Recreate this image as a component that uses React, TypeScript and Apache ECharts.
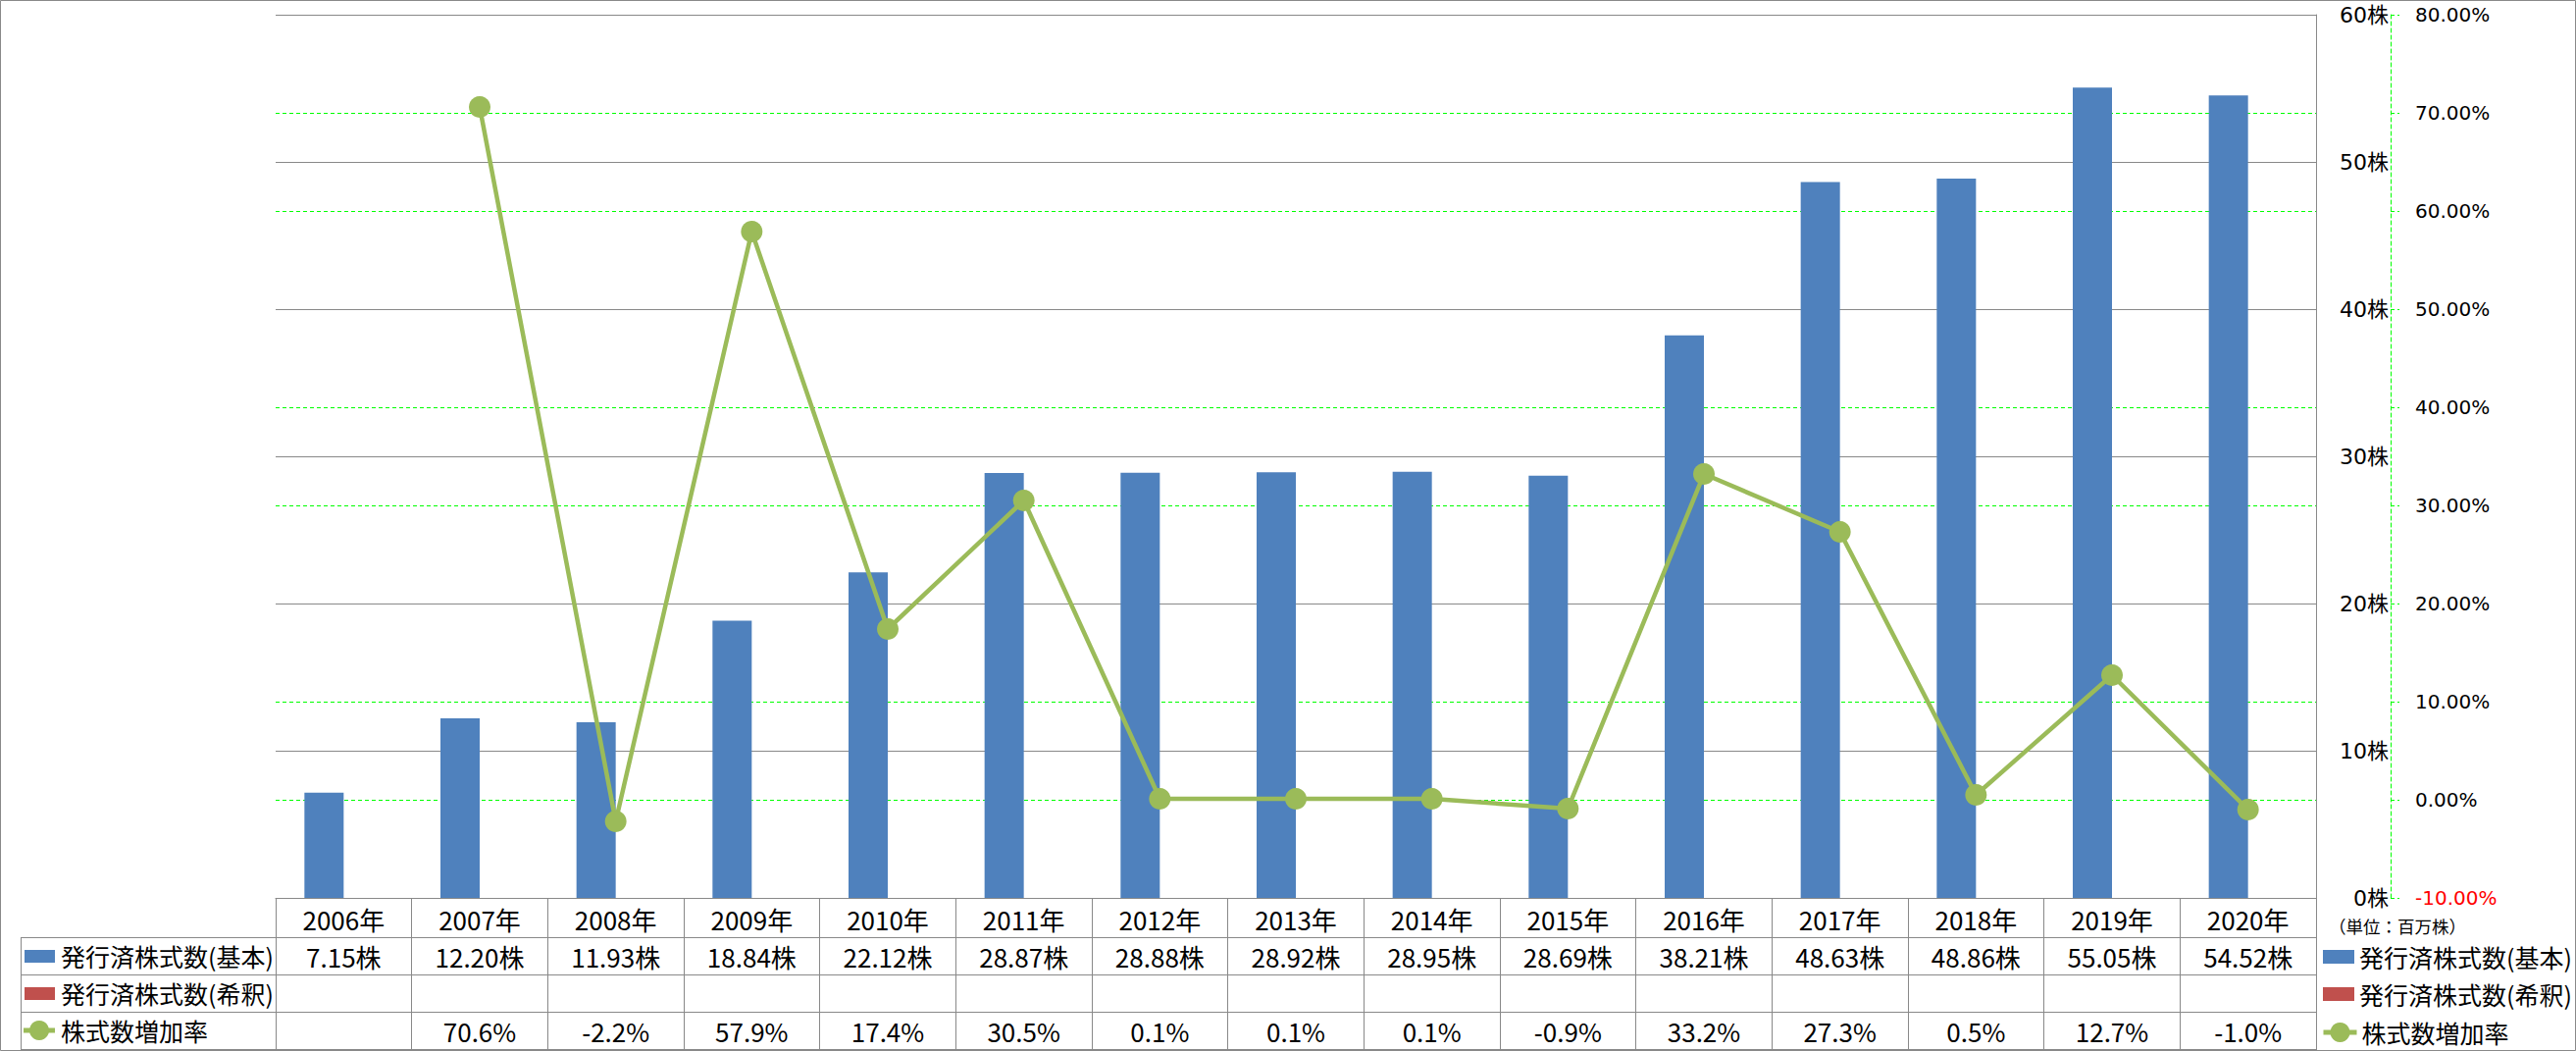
import React, { useEffect, useRef } from 'react';
import * as echarts from 'echarts';

const years = ['2006年', '2007年', '2008年', '2009年', '2010年', '2011年', '2012年', '2013年', '2014年', '2015年', '2016年', '2017年', '2018年', '2019年', '2020年'];
const basicShares = [7.15, 12.2, 11.93, 18.84, 22.12, 28.87, 28.88, 28.92, 28.95, 28.69, 38.21, 48.63, 48.86, 55.05, 54.52];
const dilutedShares: (number | null)[] = [null, null, null, null, null, null, null, null, null, null, null, null, null, null, null];
const growthRate: (number | null)[] = [null, 70.6, -2.2, 57.9, 17.4, 30.5, 0.1, 0.1, 0.1, -0.9, 33.2, 27.3, 0.5, 12.7, -1.0];
const seriesNames = ['発行済株式数(基本)', '発行済株式数(希釈)', '株式数増加率'];
const unitLabel = '（単位：百万株）';

const GRAY = '#898989';
const GREEN = '#00FF00';
const BLUE = '#4F81BD';
const RED = '#C0504D';
const OLIVE = '#9BBB59';
const tableFont = "'Liberation Sans Narrow', 'Noto Sans CJK JP', sans-serif";
const axisFont = "'DejaVu Sans', 'Noto Sans CJK JP', sans-serif";

export default function App() {
  const ref = useRef<HTMLDivElement>(null);
  useEffect(() => {
    document.body.style.margin = '0';
    const chart = echarts.init(ref.current!, undefined, { renderer: 'svg' });
    const legendTops = [962, 1000, 1039];
    const option: any = {
      animation: false,
      grid: { left: 281, top: 15, width: 2080, height: 900, containLabel: false },
      xAxis: {
        type: 'category',
        data: years,
        boundaryGap: true,
        axisLine: { show: true, lineStyle: { color: GRAY, width: 1 } },
        axisTick: { show: true, length: 155, interval: 0, lineStyle: { color: GRAY, width: 1 } },
        axisLabel: { interval: 0, margin: 8, fontSize: 26, fontFamily: tableFont, color: '#000' },
        splitLine: { show: false },
      },
      yAxis: [
        {
          type: 'value', position: 'right', min: 0, max: 60, interval: 10, z: 1,
          axisLine: { show: true, lineStyle: { color: GRAY, width: 1 } },
          axisTick: { show: false },
          splitLine: { show: true, lineStyle: { color: GRAY, width: 1 } },
          axisLabel: {
            margin: 20,
            formatter: (v: number) => `{a|${v}株}`,
            rich: { a: { width: 54, align: 'right', fontSize: 22, fontFamily: axisFont, color: '#000' } },
            showMinLabel: true, showMaxLabel: true,
          },
        },
        {
          type: 'value', position: 'right', offset: 76, min: -10, max: 80, interval: 10, z: 0,
          axisLine: { show: true, lineStyle: { color: GREEN, width: 1, type: [4, 3] } },
          axisTick: { show: true, length: 9, lineStyle: { color: GREEN, width: 1, type: [4, 3] } },
          splitLine: { show: true, lineStyle: { color: GREEN, width: 1, type: [4, 3] } },
          axisLabel: {
            margin: 25, fontSize: 20, fontFamily: axisFont,
            formatter: (v: number) => v.toFixed(2) + '%',
            color: (v: any) => (Number(v) === -10 ? '#FF0000' : '#000'),
            showMinLabel: true, showMaxLabel: true,
          },
        },
      ],
      legend: seriesNames.map((name, i) => ({
        data: i === 2 ? [name] : [{ name, icon: 'rect' }],
        left: i === 2 ? 2366 : 2368,
        top: legendTops[i],
        orient: 'vertical',
        itemWidth: i === 2 ? 34 : 32,
        itemHeight: i === 2 ? 25 : 14,
        itemGap: 0,
        padding: 0,
        selectedMode: false,
        lineStyle: i === 2 ? { width: 5 } : undefined,
        textStyle: { fontSize: 25, fontFamily: tableFont, color: '#000', lineHeight: 26 },
      })),
      series: [
        {
          name: seriesNames[0], type: 'bar', yAxisIndex: 0, data: basicShares,
          barWidth: 40, barGap: '0%', itemStyle: { color: BLUE },
        },
        {
          name: seriesNames[1], type: 'bar', yAxisIndex: 0, data: dilutedShares,
          barWidth: 40, barGap: '0%', itemStyle: { color: RED },
        },
        {
          name: seriesNames[2], type: 'line', yAxisIndex: 1, data: growthRate,
          symbol: 'circle', symbolSize: 22, connectNulls: false,
          lineStyle: { color: OLIVE, width: 4.5 }, itemStyle: { color: OLIVE },
        },
      ],
    };
    chart.setOption(option);

    const rowY = [974, 1012, 1050];
    const graphics: any[] = [];
    graphics.push({
      type: 'rect', shape: { x: 0.5, y: 0.5, width: 2625, height: 1070 },
      style: { fill: 'none', stroke: GRAY, lineWidth: 1 }, silent: true,
    });
    const tableLeft = 21;
    const tableRight = 2361;
    [955, 993, 1031, 1069].forEach((y) => {
      graphics.push({
        type: 'line', shape: { x1: tableLeft, y1: y + 0.5, x2: tableRight, y2: y + 0.5 },
        style: { stroke: GRAY, lineWidth: 1 }, silent: true,
      });
    });
    graphics.push({
      type: 'line', shape: { x1: tableLeft + 0.5, y1: 955, x2: tableLeft + 0.5, y2: 1070 },
      style: { stroke: GRAY, lineWidth: 1 }, silent: true,
    });
    graphics.push({ type: 'rect', shape: { x: 25, y: rowY[0] - 6, width: 31, height: 13 }, style: { fill: BLUE }, silent: true });
    graphics.push({ type: 'rect', shape: { x: 25, y: rowY[1] - 6, width: 31, height: 13 }, style: { fill: RED }, silent: true });
    graphics.push({ type: 'line', shape: { x1: 24, y1: rowY[2], x2: 56, y2: rowY[2] }, style: { stroke: OLIVE, lineWidth: 5 }, silent: true });
    graphics.push({ type: 'circle', shape: { cx: 40, cy: rowY[2], r: 10 }, style: { fill: OLIVE }, silent: true });
    seriesNames.forEach((name, i) => {
      graphics.push({
        type: 'text', x: 62, y: rowY[i],
        style: { text: name, fontSize: 25, fontFamily: tableFont, fill: '#000', align: 'left', verticalAlign: 'middle' },
        silent: true,
      });
    });
    graphics.push({
      type: 'text', x: 2374, y: 943,
      style: { text: unitLabel, fontSize: 17.5, fontFamily: tableFont, fill: '#000', align: 'left', verticalAlign: 'middle' },
      silent: true,
    });
    years.forEach((yr, i) => {
      const cx = chart.convertToPixel({ xAxisIndex: 0 }, yr) as unknown as number;
      const b = basicShares[i];
      if (b != null) {
        graphics.push({
          type: 'text', x: cx, y: rowY[0],
          style: { text: b.toFixed(2) + '株', fontSize: 26, fontFamily: tableFont, fill: '#000', align: 'center', verticalAlign: 'middle' },
          silent: true,
        });
      }
      const d = dilutedShares[i];
      if (d != null) {
        graphics.push({
          type: 'text', x: cx, y: rowY[1],
          style: { text: d.toFixed(2) + '株', fontSize: 26, fontFamily: tableFont, fill: '#000', align: 'center', verticalAlign: 'middle' },
          silent: true,
        });
      }
      const g = growthRate[i];
      if (g != null) {
        graphics.push({
          type: 'text', x: cx, y: rowY[2],
          style: { text: g.toFixed(1) + '%', fontSize: 26, fontFamily: tableFont, fill: '#000', align: 'center', verticalAlign: 'middle' },
          silent: true,
        });
      }
    });
    chart.setOption({ graphic: graphics });
    return () => chart.dispose();
  }, []);
  return <div ref={ref} style={{ width: 2626, height: 1071 }} />;
}
